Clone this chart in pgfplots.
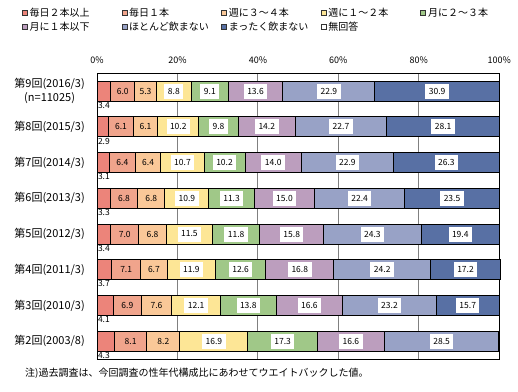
\documentclass[border=0pt]{standalone}
\usepackage{pgfplots}
\pgfplotsset{compat=1.18}
\usepackage{fontspec}
\setmainfont{Noto Sans CJK JP}
\definecolor{c1}{HTML}{EC847A}
\definecolor{c2}{HTML}{F0A48C}
\definecolor{c3}{HTML}{FAC898}
\definecolor{c4}{HTML}{FDE696}
\definecolor{c5}{HTML}{A0C888}
\definecolor{c6}{HTML}{BC9EBE}
\definecolor{c7}{HTML}{98A2C6}
\definecolor{c8}{HTML}{5870A4}
\begin{document}
\begin{tikzpicture}
\path[use as bounding box] (0,0) rectangle (518pt,-391pt);
\begin{axis}[
  at={(97pt,-73.3pt)}, anchor=north west,
  scale only axis, width=402.3pt, height=285.7pt,
  xbar stacked, bar width=20pt, clip=false,
  xmin=0, xmax=100, ymin=-0.5, ymax=7.5, y dir=reverse,
  xtick={0,20,40,60,80,100},
  xticklabels={0\%,20\%,40\%,60\%,80\%,100\%},
  xticklabel pos=upper,
  xticklabel style={font=\fontsize{9}{10}\selectfont, anchor=base, yshift=10pt},
  ytick={0,1,2,3,4,5,6,7},
  yticklabels={{第9回(2016/3)\\(n=11025)},第8回(2015/3),第7回(2014/3),第6回(2013/3),第5回(2012/3),第4回(2011/3),第3回(2010/3),第2回(2003/8)},
  yticklabel style={align=center, font=\fontsize{11}{14.5}\selectfont, inner sep=0pt, xshift=-12pt},
  major tick length=0pt,
  xmajorgrids, major grid style={gray, line width=1pt},
  axis line style={black, line width=1pt},
  every axis plot/.append style={draw=black, line width=1pt},
  /pgf/number format/fixed, /pgf/number format/fixed zerofill,
  /pgf/number format/precision=1, /pgf/number format/assume math mode=true,
  visualization depends on={rawx \as \rawx},
  nodes near coords={\pgfmathprintnumber{\rawx}},
  every node near coord/.append style={font=\fontsize{8.5}{9}\selectfont, text=black},
  legend columns=5,
  legend cell align=left,
  legend style={draw=none, fill=none, at={(axis description cs:0,1)}, anchor=north west,
    xshift=-75pt, yshift=65.5pt, inner sep=0pt, outer sep=0pt,
    font=\fontsize{10}{12}\selectfont, row sep=4pt,
    /tikz/every odd column/.append style={column sep=2pt},
    nodes={inner sep=0pt}},
  legend image code/.code={\draw[#1, line width=0.6pt, draw=black!80] (0pt,-2.5pt) rectangle (5pt,2.5pt);},
  labelbelow/.style={every node near coord/.append style={anchor=north west, xshift={-\rawx*2.0115pt}, yshift=-10pt, inner sep=0.5pt}},
  labelplain/.style={every node near coord/.append style={anchor=center}},
  labelbox/.style={every node near coord/.append style={anchor=center, fill=white, inner xsep=3.5pt, minimum height=15pt}},
]
\addplot[fill=c1, labelbelow] coordinates {(3.4,0)(2.9,1)(3.1,2)(3.3,3)(3.4,4)(3.7,5)(4.1,6)(4.3,7)};
\addlegendentry{\makebox[92pt][l]{毎日２本以上}}
\addplot[fill=c2, labelplain] coordinates {(6.0,0)(6.1,1)(6.4,2)(6.8,3)(7.0,4)(7.1,5)(6.9,6)(8.1,7)};
\addlegendentry{\makebox[92pt][l]{毎日１本}}
\addplot[fill=c3, labelplain] coordinates {(5.3,0)(6.1,1)(6.4,2)(6.8,3)(6.8,4)(6.7,5)(7.6,6)(8.2,7)};
\addlegendentry{\makebox[92pt][l]{週に３～４本}}
\addplot[fill=c4, labelbox] coordinates {(8.8,0)(10.2,1)(10.7,2)(10.9,3)(11.5,4)(11.9,5)(12.1,6)(16.9,7)};
\addlegendentry{\makebox[92pt][l]{週に１～２本}}
\addplot[fill=c5, labelbox] coordinates {(9.1,0)(9.8,1)(10.2,2)(11.3,3)(11.8,4)(12.6,5)(13.8,6)(17.3,7)};
\addlegendentry{\makebox[92pt][l]{月に２～３本}}
\addplot[fill=c6, labelbox] coordinates {(13.6,0)(14.2,1)(14.0,2)(15.0,3)(15.8,4)(16.8,5)(16.6,6)(16.6,7)};
\addlegendentry{\makebox[92pt][l]{月に１本以下}}
\addplot[fill=c7, labelbox] coordinates {(22.9,0)(22.7,1)(22.9,2)(22.4,3)(24.3,4)(24.2,5)(23.2,6)(28.5,7)};
\addlegendentry{\makebox[92pt][l]{ほとんど飲まない}}
\addplot[fill=c8, labelbox] coordinates {(30.9,0)(28.1,1)(26.3,2)(23.5,3)(19.4,4)(17.2,5)(15.7,6)};
\addlegendentry{\makebox[92pt][l]{まったく飲まない}}
\addlegendimage{fill=white, draw=black}
\addlegendentry{無回答}
\end{axis}
\node[anchor=west, font=\fontsize{10}{12}\selectfont, inner sep=0pt] at (25pt,-373.5pt) {注)過去調査は、今回調査の性年代構成比にあわせてウエイトバックした値。};
\end{tikzpicture}
\end{document}
